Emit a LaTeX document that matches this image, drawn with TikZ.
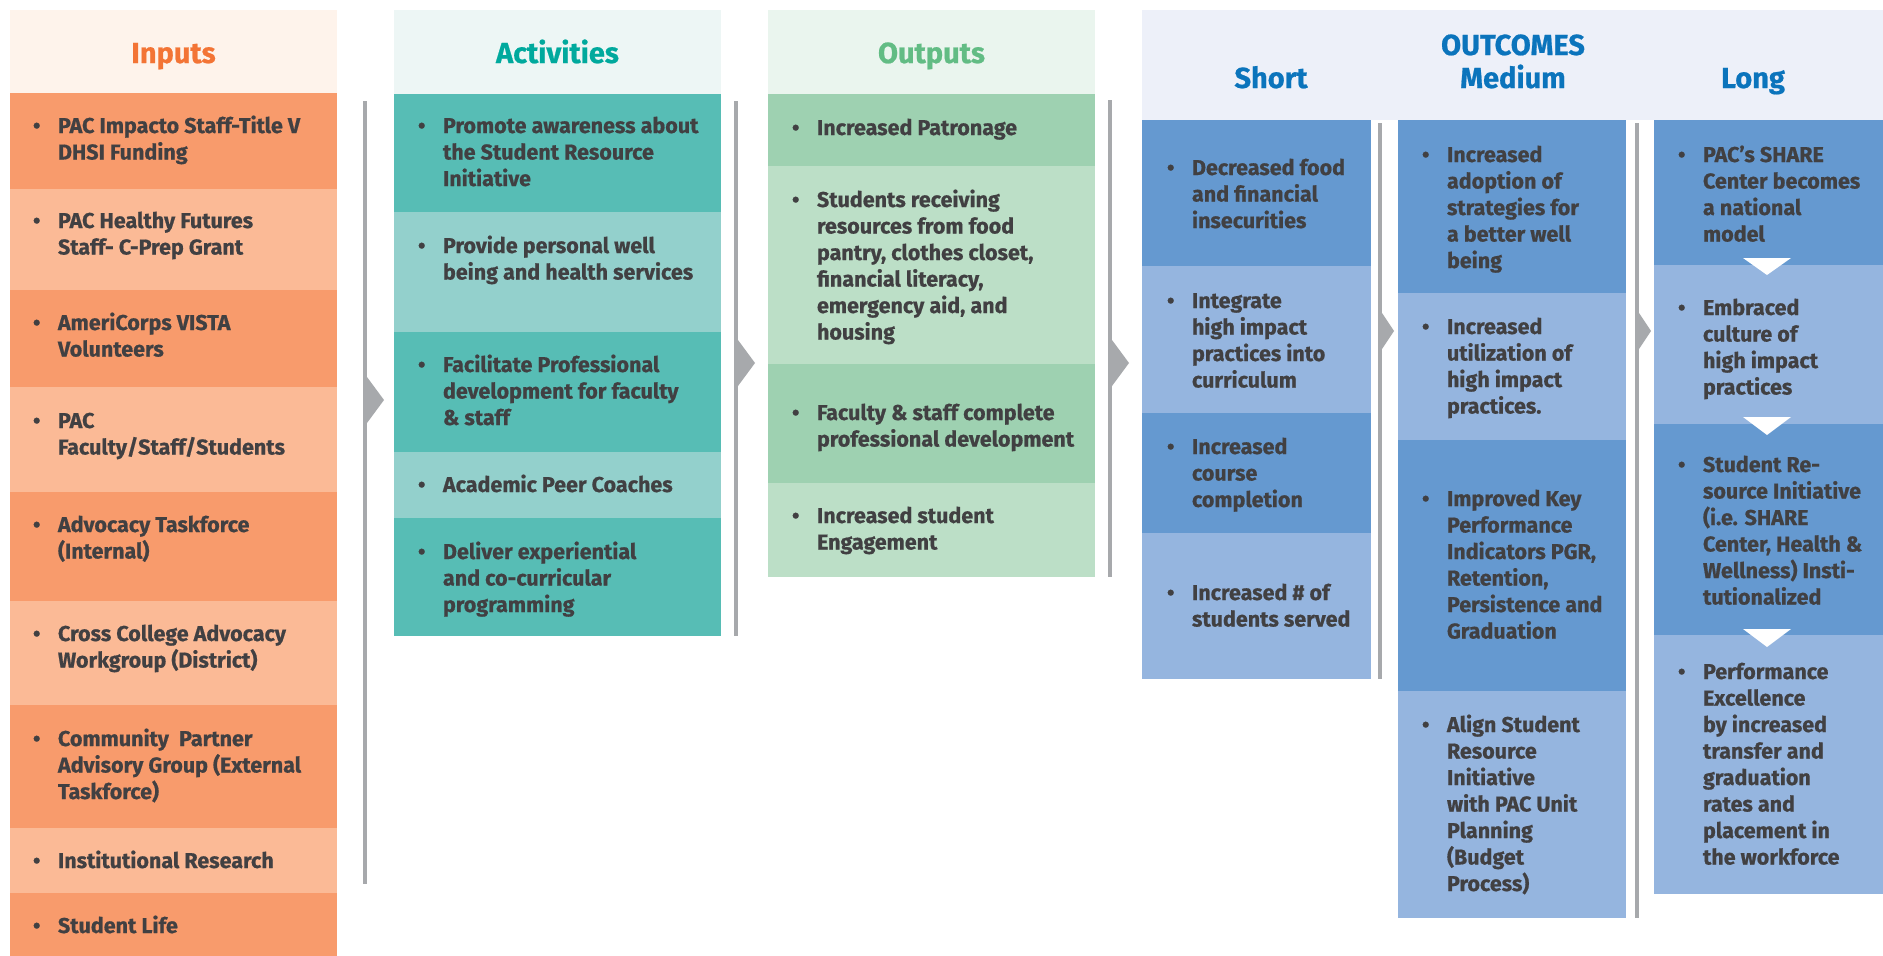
\documentclass[tikz,border=0pt]{standalone}
\usepackage{fontspec}
\setmainfont{Fira Sans}[BoldFeatures={FakeBold=0.7}]
\usetikzlibrary{fit}
\definecolor{txt}{HTML}{414042}
\definecolor{inD}{HTML}{F89B6C}
\definecolor{inL}{HTML}{FBBA96}
\definecolor{inH}{HTML}{FEF3EB}
\definecolor{inT}{HTML}{F37435}
\definecolor{acD}{HTML}{57BDB5}
\definecolor{acL}{HTML}{93D0CC}
\definecolor{acH}{HTML}{EDF6F5}
\definecolor{acT}{HTML}{00A99D}
\definecolor{ouD}{HTML}{9ED1B1}
\definecolor{ouL}{HTML}{BCDFC7}
\definecolor{ouH}{HTML}{EAF5EE}
\definecolor{ouT}{HTML}{62BC84}
\definecolor{ocD}{HTML}{6599D0}
\definecolor{ocL}{HTML}{95B5DF}
\definecolor{ocH}{HTML}{EDF0F9}
\definecolor{ocT}{HTML}{0B74BC}
\definecolor{sepc}{HTML}{A7A9AC}
\tikzset{
  cellbox/.style={inner sep=0pt, outer sep=0pt, draw=none},
  itemtext/.style={font=\bfseries\fontsize{21.5}{26.5}\selectfont, text=txt, inner sep=0pt, outer sep=0pt, anchor=base west},
  titletext/.style={font=\bfseries\fontsize{29}{33}\selectfont, inner sep=0pt, outer sep=0pt, anchor=base},
  sepbar/.style={fill=sepc},
}
% name, colour, x1, y1, x2, y2
\newcommand{\mkcell}[6]{%
  \path (#3,#4) coordinate (#1-nw) (#5,#6) coordinate (#1-se);
  \node[cellbox, fill=#2, fit=(#1-nw)(#1-se)] (#1) {};}
% name, text x, baseline y, lines
\newcommand{\mkitem}[4]{%
  \node[itemtext] (#1) at (#2-25,#3) {\makebox[25pt][l]{\textbullet}\begin{tabular}[t]{@{}l@{}}#4\end{tabular}};}
\begin{document}
\begin{tikzpicture}[x=1pt,y=-1pt]
\fill[white] (0,0) rectangle (1883,956);
\useasboundingbox (0,0) rectangle (1883,956);

% ---------- headers ----------
\mkcell{hin}{inH}{10}{10}{337}{93}
\mkcell{hac}{acH}{394}{10}{721}{94}
\mkcell{hou}{ouH}{768}{10}{1095}{94}
\mkcell{hoc}{ocH}{1142}{10}{1883}{120}
\node[titletext, text=inT] (tin) at (173.5,63) {Inputs};
\node[titletext, text=acT] (tac) at (557.5,63) {Activities};
\node[titletext, text=ouT] (tou) at (931.5,63) {Outputs};
\node[titletext, text=ocT] (toc) at (1513,55) {OUTCOMES};
\node[titletext, text=ocT] (tsh) at (1271,88) {Short};
\node[titletext, text=ocT] (tme) at (1513,88) {Medium};
\node[titletext, text=ocT] (tlo) at (1753,88) {Long};

% ---------- Inputs ----------
\mkcell{in1c}{inD}{10}{93}{337}{189}
\mkcell{in2c}{inL}{10}{189}{337}{290}
\mkcell{in3c}{inD}{10}{290}{337}{387}
\mkcell{in4c}{inL}{10}{387}{337}{492}
\mkcell{in5c}{inD}{10}{492}{337}{601}
\mkcell{in6c}{inL}{10}{601}{337}{705}
\mkcell{in7c}{inD}{10}{705}{337}{828}
\mkcell{in8c}{inL}{10}{828}{337}{893}
\mkcell{in9c}{inD}{10}{893}{337}{956}
\mkitem{in1}{58}{133}{PAC Impacto Staff-Title V\\DHSI Funding}
\mkitem{in2}{58}{228}{PAC Healthy Futures\\Staff- C-Prep Grant}
\mkitem{in3}{58}{330}{AmeriCorps VISTA\\Volunteers}
\mkitem{in4}{58}{428}{PAC\\Faculty/Staff/Students}
\mkitem{in5}{58}{532}{Advocacy Taskforce\\(Internal)}
\mkitem{in6}{58}{641}{Cross College Advocacy\\Workgroup (District)}
\mkitem{in7}{58}{746}{Community\ \ Partner\\Advisory Group (External\\Taskforce)}
\mkitem{in8}{58}{868}{Institutional Research}
\mkitem{in9}{58}{933}{Student Life}

% ---------- Activities ----------
\mkcell{ac1c}{acD}{394}{94}{721}{212}
\mkcell{ac2c}{acL}{394}{212}{721}{332}
\mkcell{ac3c}{acD}{394}{332}{721}{452}
\mkcell{ac4c}{acL}{394}{452}{721}{518}
\mkcell{ac5c}{acD}{394}{518}{721}{636}
\mkitem{ac1}{443}{133}{Promote awareness about\\the Student Resource\\Initiative}
\mkitem{ac2}{443}{253}{Provide personal well\\being and health services}
\mkitem{ac3}{443}{372}{Facilitate Professional\\development for faculty\\\& staff}
\mkitem{ac4}{443}{492}{Academic Peer Coaches}
\mkitem{ac5}{443}{559}{Deliver experiential\\and co-curricular\\programming}

% ---------- Outputs ----------
\mkcell{ou1c}{ouD}{768}{94}{1095}{166}
\mkcell{ou2c}{ouL}{768}{166}{1095}{364}
\mkcell{ou3c}{ouD}{768}{364}{1095}{483}
\mkcell{ou4c}{ouL}{768}{483}{1095}{577}
\mkitem{ou1}{817}{135}{Increased Patronage}
\mkitem{ou2}{817}{207}{Students receiving\\resources from food\\pantry, clothes closet,\\financial literacy,\\emergency aid, and\\housing}
\mkitem{ou3}{817}{420}{Faculty \& staff complete\\professional development}
\mkitem{ou4}{817}{523}{Increased student\\Engagement}

% ---------- Short ----------
\mkcell{sh1c}{ocD}{1142}{120}{1371}{266}
\mkcell{sh2c}{ocL}{1142}{266}{1371}{413}
\mkcell{sh3c}{ocD}{1142}{413}{1371}{533}
\mkcell{sh4c}{ocL}{1142}{533}{1371}{679}
\mkitem{sh1}{1192}{175}{Decreased food\\and financial\\insecurities}
\mkitem{sh2}{1192}{308}{Integrate\\high impact\\practices into\\curriculum}
\mkitem{sh3}{1192}{454}{Increased\\course\\completion}
\mkitem{sh4}{1192}{600}{Increased \# of\\students served}

% ---------- Medium ----------
\mkcell{me1c}{ocD}{1398}{120}{1626}{293}
\mkcell{me2c}{ocL}{1398}{293}{1626}{440}
\mkcell{me3c}{ocD}{1398}{440}{1626}{691}
\mkcell{me4c}{ocL}{1398}{691}{1626}{918}
\mkitem{me1}{1447}{162}{Increased\\adoption of\\strategies for\\a better well\\being}
\mkitem{me2}{1447}{334}{Increased\\utilization of\\high impact\\practices.}
\mkitem{me3}{1447}{506}{Improved Key\\Performance\\Indicators PGR,\\Retention,\\Persistence and\\Graduation}
\mkitem{me4}{1447}{732}{Align Student\\Resource\\Initiative\\with PAC Unit\\Planning\\(Budget\\Process)}

% ---------- Long ----------
\mkcell{lo1c}{ocD}{1654}{120}{1883}{265}
\mkcell{lo2c}{ocL}{1654}{265}{1883}{424}
\mkcell{lo3c}{ocD}{1654}{424}{1883}{635}
\mkcell{lo4c}{ocL}{1654}{635}{1883}{894}
\fill[white] (1743,258) -- (1791,258) -- (1767,275) -- cycle;
\fill[white] (1743,417) -- (1791,417) -- (1767,435) -- cycle;
\fill[white] (1743,629) -- (1791,629) -- (1767,647) -- cycle;
\mkitem{lo1}{1703}{162}{PAC’s SHARE\\Center becomes\\a national\\model}
\mkitem{lo2}{1703}{315}{Embraced\\culture of\\high impact\\practices}
\mkitem{lo3}{1703}{472}{Student Re-\\source Initiative\\(i.e. SHARE\\Center, Health \&\\Wellness) Insti-\\tutionalized}
\mkitem{lo4}{1703}{679}{Performance\\Excellence\\by increased\\transfer and\\graduation\\rates and\\placement in\\the workforce}

% ---------- separators with chevrons ----------
\fill[sepbar] (363,101) rectangle (367,884);
\fill[sepbar] (367,377) -- (384,400) -- (367,423) -- cycle;
\fill[sepbar] (734,101) rectangle (738,636);
\fill[sepbar] (738,340) -- (755,363) -- (738,386) -- cycle;
\fill[sepbar] (1108,100) rectangle (1112,577);
\fill[sepbar] (1112,340) -- (1129,363) -- (1112,386) -- cycle;
\fill[sepbar] (1378,123) rectangle (1382,679);
\fill[sepbar] (1382,313) -- (1394,331) -- (1382,349) -- cycle;
\fill[sepbar] (1635,123) rectangle (1639,918);
\fill[sepbar] (1639,313) -- (1651,331) -- (1639,349) -- cycle;
\end{tikzpicture}
\end{document}
